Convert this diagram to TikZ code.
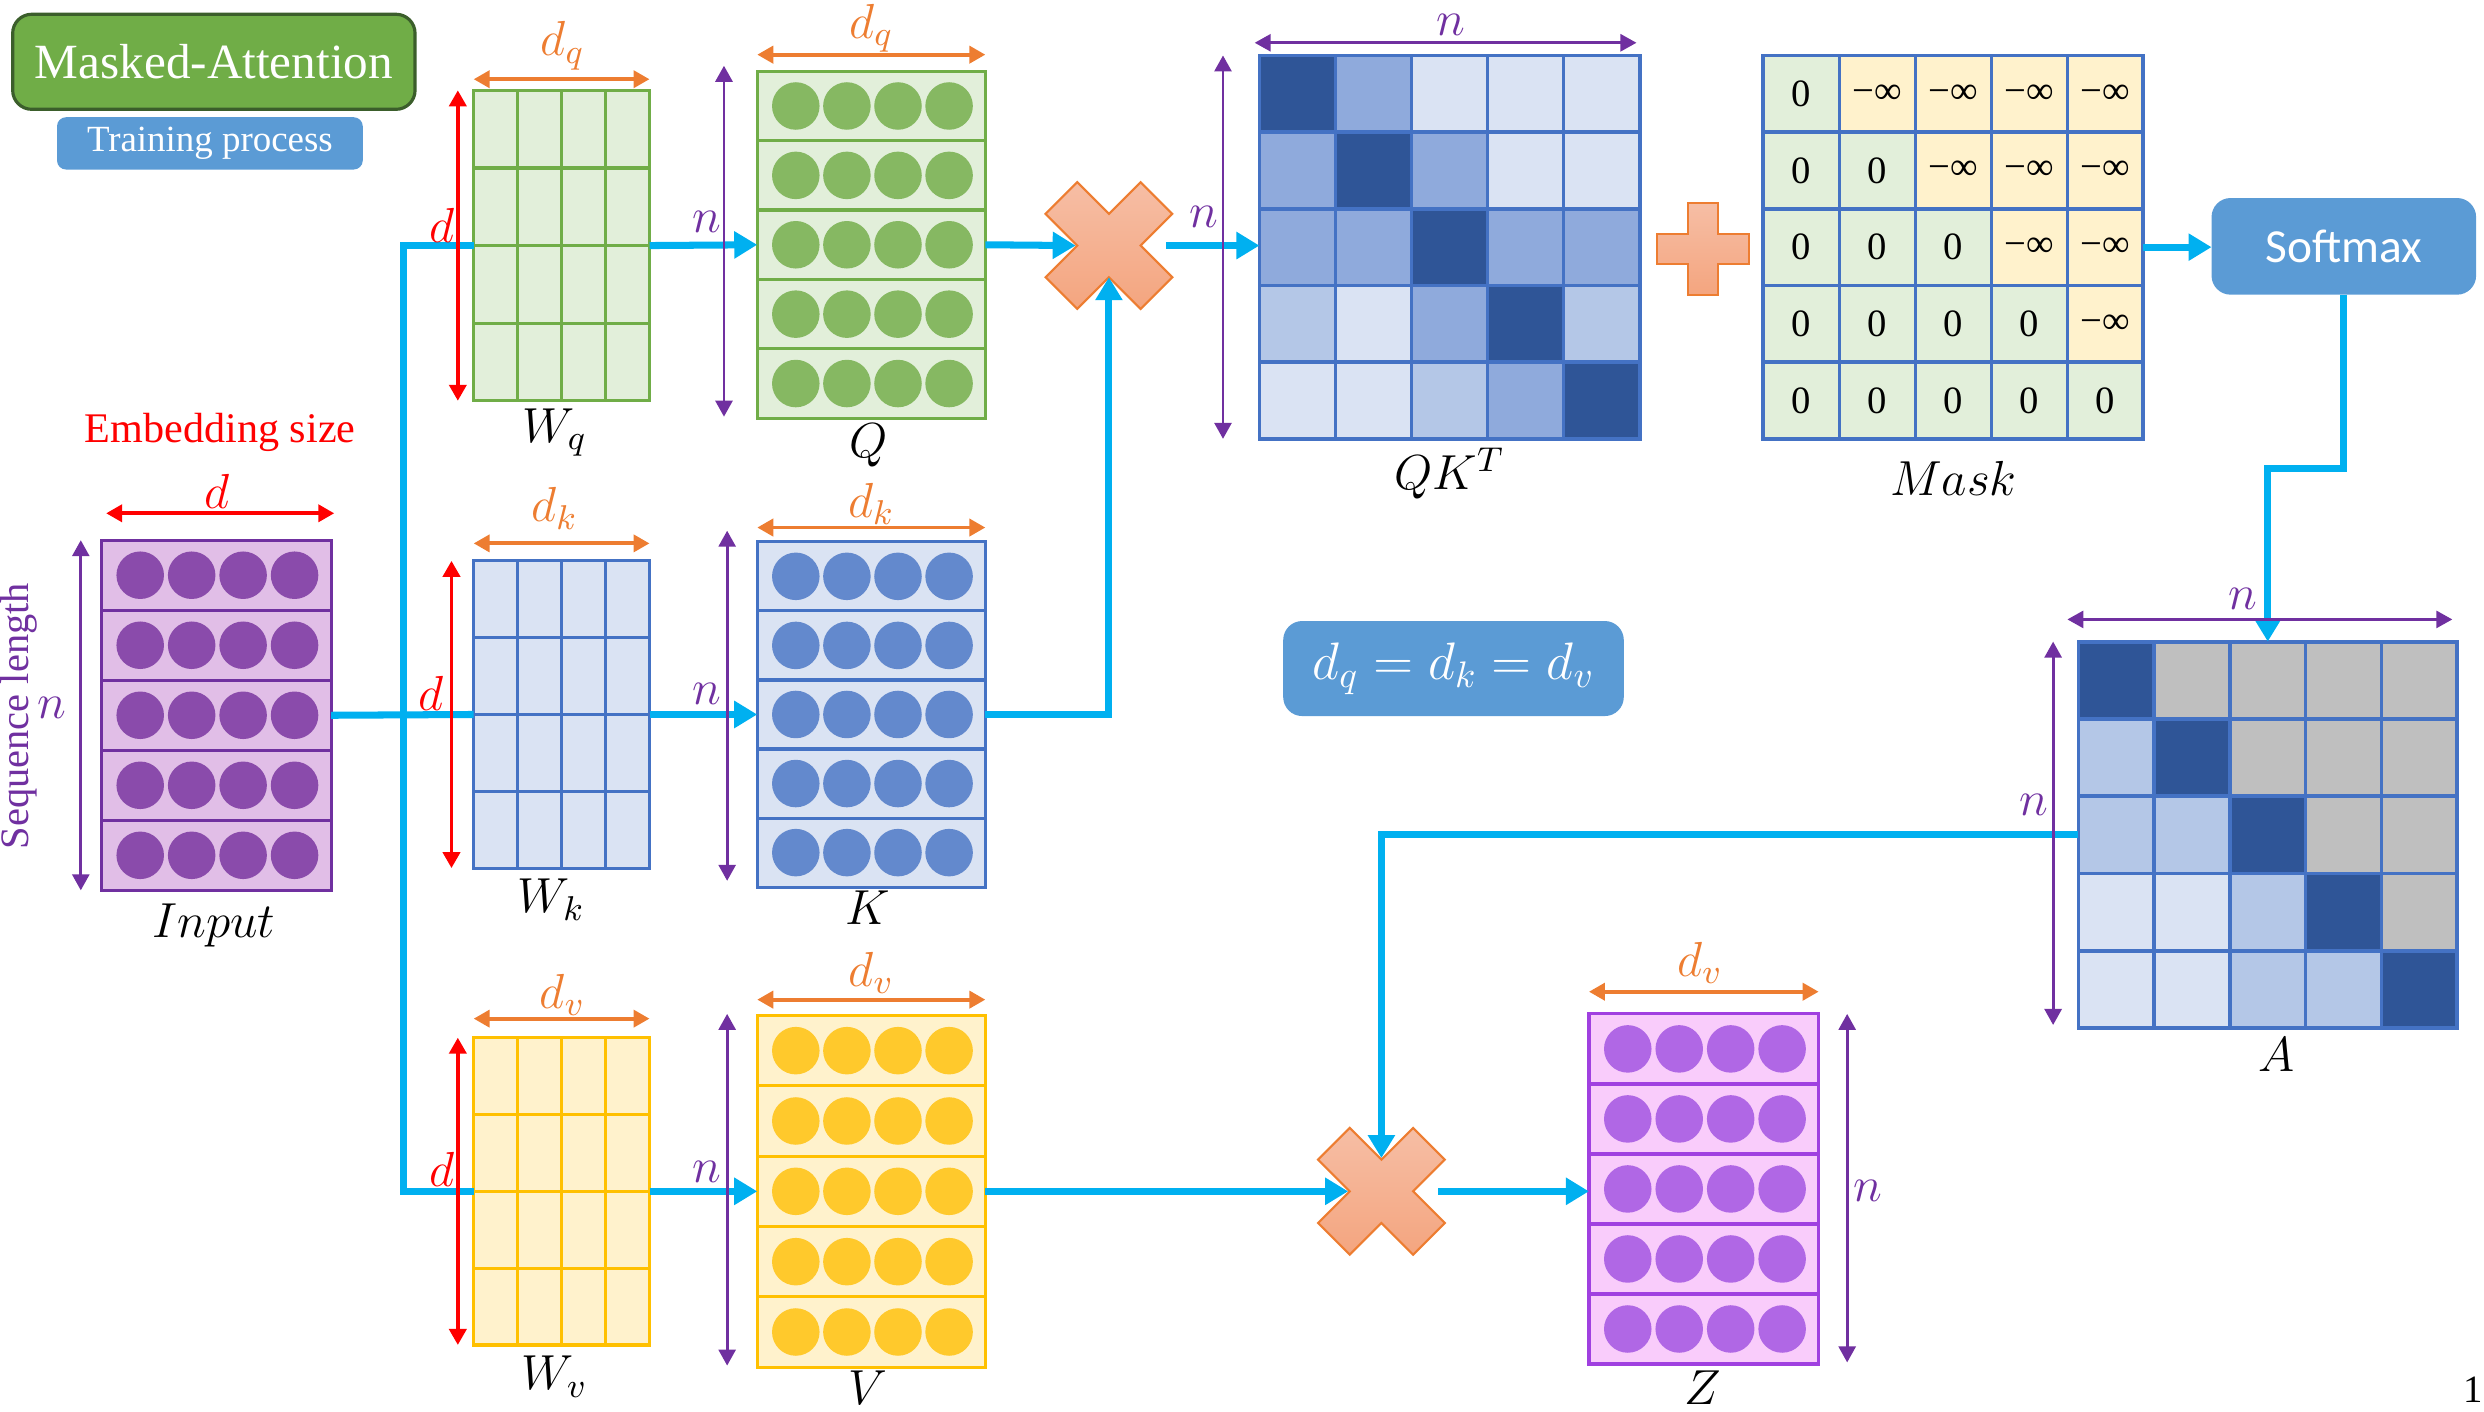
\RequirePackage{fix-cm}
\documentclass[tikz,border=0pt]{standalone}
\usepackage{fontspec}
\setmainfont{Liberation Serif}
\newfontfamily\uisans{Carlito}
\usetikzlibrary{arrows.meta,fit,calc}

\definecolor{flowblue}{HTML}{00B0F0}
\definecolor{dimpurple}{HTML}{7030A0}
\definecolor{dimorange}{HTML}{ED7D31}
\definecolor{dimred}{HTML}{FF0000}
\definecolor{panelblue}{HTML}{5B9BD5}
\definecolor{titlegreen}{HTML}{70AD47}
\definecolor{titleedge}{HTML}{3B5E2B}
% weight / vector colours
\definecolor{gfill}{HTML}{E2EFDA}\definecolor{gline}{HTML}{70AD47}\definecolor{gdot}{HTML}{86B862}
\definecolor{bfill}{HTML}{DAE3F3}\definecolor{bline}{HTML}{4472C4}\definecolor{bdot}{HTML}{6389CD}
\definecolor{yfill}{HTML}{FFF2CC}\definecolor{yline}{HTML}{FFC000}\definecolor{ydot}{HTML}{FFC92C}
\definecolor{pfill}{HTML}{E1BEE7}\definecolor{pline}{HTML}{7030A0}\definecolor{pdot}{HTML}{8A4BAB}
\definecolor{zfill}{HTML}{F9CCFB}\definecolor{zline}{HTML}{A040E0}\definecolor{zdot}{HTML}{B067E5}
% heat map shades
\definecolor{hdk}{HTML}{2F5597}
\definecolor{hmd}{HTML}{8FAADC}
\definecolor{hlm}{HTML}{B4C7E7}
\definecolor{hlt}{HTML}{DAE3F3}
\definecolor{hgr}{HTML}{BFBFBF}
\definecolor{mg}{HTML}{E2EFDA}
\definecolor{my}{HTML}{FFF2CC}
% product / sum signs
\definecolor{signtop}{HTML}{F6BEA5}
\definecolor{signbot}{HTML}{F4A57F}
\definecolor{signedge}{HTML}{ED7D31}

\newcommand\ninf{−∞}

\tikzset{
  flowline/.style={draw=flowblue, line width=2pt, line join=miter},
  flowarrow/.style={flowline, -{Triangle[length=0.23cm,width=0.26cm]}},
  dimtips/.style={{Triangle[length=0.16cm,width=0.17cm]}-{Triangle[length=0.16cm,width=0.17cm]}},
  purpdim/.style={draw=dimpurple, line width=0.8pt, dimtips},
  orgdim/.style={draw=dimorange, line width=1.1pt, dimtips},
  reddim/.style={draw=dimred, line width=1.1pt, dimtips},
  mlab/.style={inner sep=0pt, font=\fontsize{14}{16}\selectfont},
  frame/.style={inner sep=0pt, outer sep=0pt},
}

% weight matrix: 4x4 grid
\newcommand\weightgrid[7]{%
  \fill[#6] (#2,#3) rectangle (#4,#5);
  \foreach \i in {1,2,3} {
    \draw[#7, line width=0.9pt] ({#2+\i*(#4-#2)/4},#3) -- ({#2+\i*(#4-#2)/4},#5);
    \draw[#7, line width=0.9pt] (#2,{#3+\i*(#5-#3)/4}) -- (#4,{#3+\i*(#5-#3)/4});
  }
  \draw[#7, line width=0.9pt] (#2,#3) rectangle (#4,#5);
  \node[frame, fit={(#2,#3) (#4,#5)}] (#1) {};
}

% vector matrix: 5 rows of 4 dots
\newcommand\vecmat[8]{%
  \foreach \r in {0,...,4} {
    \pgfmathsetmacro\ya{#3+\r*(#5-#3)/5}
    \pgfmathsetmacro\yb{#3+(\r+1)*(#5-#3)/5}
    \draw[fill=#6, draw=#7, line width=0.9pt] (#2,\ya) rectangle (#4,\yb);
    \foreach \i in {0,...,3}
      \fill[#8] ({#2+(0.169+\i*0.224)*(#4-#2)},{(\ya+\yb)/2}) circle[radius=0.2376cm];
  }
  \node[frame, fit={(#2,#3) (#4,#5)}] (#1) {};
}

% 5x5 shaded matrix
\newcommand\heatmat[6]{%
  \foreach \c [count=\k from 0] in {#6} {
    \pgfmathtruncatemacro\cc{mod(\k,5)}
    \pgfmathtruncatemacro\rr{floor(\k/5)}
    \fill[fill=\c] ({#2+\cc*(#4-#2)/5},{#3+\rr*(#5-#3)/5}) rectangle ({#2+(\cc+1)*(#4-#2)/5},{#3+(\rr+1)*(#5-#3)/5});
  }
  \foreach \i in {1,...,4} {
    \draw[bline, line width=1pt] ({#2+\i*(#4-#2)/5},#3) -- ({#2+\i*(#4-#2)/5},#5);
    \draw[bline, line width=1pt] (#2,{#3+\i*(#5-#3)/5}) -- (#4,{#3+\i*(#5-#3)/5});
  }
  \draw[bline, line width=1.1pt] (#2,#3) rectangle (#4,#5);
  \node[frame, fit={(#2,#3) (#4,#5)}] (#1) {};
}

% multiplication sign with named notches
\newcommand\timessign[3]{%
  \shadedraw[top color=signtop, bottom color=signbot, draw=signedge, line width=0.6pt]
    (#2-40,#3-20) -- (#2-20,#3-40) -- (#2,#3-20) -- (#2+20,#3-40) -- (#2+40,#3-20) -- (#2+20,#3)
    -- (#2+40,#3+20) -- (#2+20,#3+40) -- (#2,#3+20) -- (#2-20,#3+40) -- (#2-40,#3+20) -- (#2-20,#3) -- cycle;
  \coordinate (#1) at (#2,#3);
  \coordinate (#1-l) at (#2-21,#3);
  \coordinate (#1-r) at (#2+36,#3);
  \coordinate (#1-t) at (#2,#3-21);
  \coordinate (#1-b) at (#2,#3+20);
}

\begin{document}
\begin{tikzpicture}[x=0.015842cm, y=-0.015842cm]
\useasboundingbox (0,0) rectangle (1568,891);

% ---- title panels ----
\node[frame, fit={(8,9) (262,69)}, rounded corners=0.19cm, fill=titlegreen, draw=titleedge, line width=0.9pt] (titlebox) {};
\node[inner sep=0pt, text=white, font=\fontsize{14}{16}\selectfont] (titletext) at (titlebox) {Masked-Attention};
\node[frame, fit={(36,74) (229,107)}, rounded corners=0.09cm, fill=panelblue] (trainbox) {};
\node[inner sep=0pt, text=white, font=\fontsize{10.5}{12}\selectfont] (traintext) at (trainbox) {Training process};

% ---- input ----
\vecmat{In}{64}{341}{209}{562}{pfill}{pline}{pdot}
\node[inner sep=0pt, text=dimred, font=\fontsize{12}{14}\selectfont] (embsize) at (139,273) {Embedding size};
\node[inner sep=0pt, rotate=90, text=dimpurple, font=\fontsize{11.5}{13}\selectfont] (seqlen) at (12,452) {Sequence length};

% ---- weights ----
\weightgrid{Wq}{299}{57}{410}{253}{gfill}{gline}
\weightgrid{Wk}{299}{354}{410}{548}{bfill}{bline}
\weightgrid{Wv}{299}{655}{410}{849}{yfill}{yline}

% ---- Q, K, V, Z ----
\vecmat{Q}{478}{45}{622}{264}{gfill}{gline}{gdot}
\vecmat{K}{478}{342}{622}{560}{bfill}{bline}{bdot}
\vecmat{V}{478}{641}{622}{863}{yfill}{yline}{ydot}
\vecmat{Z}{1003}{640}{1148}{861}{zfill}{zline}{zdot}

% ---- score, mask and attention matrices ----
\heatmat{QK}{795}{35}{1035}{277}{hdk,hmd,hlt,hlt,hlt, hmd,hdk,hmd,hlt,hlt, hmd,hmd,hdk,hmd,hmd, hlm,hlt,hmd,hdk,hlm, hlt,hlt,hlm,hmd,hdk}
\heatmat{Mask}{1113}{35}{1353}{277}{mg,my,my,my,my, mg,mg,my,my,my, mg,mg,mg,my,my, mg,mg,mg,mg,my, mg,mg,mg,mg,mg}
\foreach \t [count=\k from 0] in {0,\ninf,\ninf,\ninf,\ninf, 0,0,\ninf,\ninf,\ninf, 0,0,0,\ninf,\ninf, 0,0,0,0,\ninf, 0,0,0,0,0} {
  \pgfmathtruncatemacro\cc{mod(\k,5)}
  \pgfmathtruncatemacro\rr{floor(\k/5)}
  \node[inner sep=0pt, font=\fontsize{11}{13}\selectfont] (mv\k) at ({1113+(\cc+0.5)*48},{35+(\rr+0.5)*48.4}) {\t};
}
\heatmat{A}{1312}{405}{1551}{649}{hdk,hgr,hgr,hgr,hgr, hlm,hdk,hgr,hgr,hgr, hlm,hlm,hdk,hgr,hgr, hlt,hlt,hlm,hdk,hgr, hlt,hlt,hlm,hlm,hdk}

% ---- operators ----
\timessign{m1}{700}{155}
\timessign{m2}{872}{752}
\shadedraw[top color=signtop, bottom color=signbot, draw=signedge, line width=0.6pt]
  (1065.5,128) -- (1084.5,128) -- (1084.5,147.5) -- (1104,147.5) -- (1104,166.5) -- (1084.5,166.5)
  -- (1084.5,186) -- (1065.5,186) -- (1065.5,166.5) -- (1046,166.5) -- (1046,147.5) -- (1065.5,147.5) -- cycle;

% ---- softmax and equality panel ----
\node[frame, fit={(1396,125) (1563,186)}, rounded corners=0.19cm, fill=panelblue] (Sm) {};
\node[inner sep=0pt, text=white, font=\uisans\fontsize{13.5}{15}\selectfont] (smtext) at (Sm) {Softmax};
\node[frame, fit={(810,392) (1025,452)}, rounded corners=0.19cm, fill=panelblue] (eqbox) {};
\node[inner sep=0pt, text=white, font=\fontsize{15}{17}\selectfont] (eqtext) at (eqbox) {$d_q = d_k = d_v$};

% ---- data flow ----
\coordinate (tq) at (255,155);
\coordinate (tv) at (255,752);
\coordinate (bend) at (1455,296);
\draw[flowline] (Wq.west) -- (tq) -- (tv) -- (Wv.west);
\draw[flowline] (In.east) -- (Wk.west);
\draw[flowarrow] (Wq.east) -- (Q.west);
\draw[flowarrow] (Wk.east) -- (K.west);
\draw[flowarrow] (Wv.east) -- (V.west);
\draw[flowarrow] (Q.east) -- (m1-l);
\draw[flowarrow] (K.east) -| (m1-b);
\draw[flowarrow] (m1-r) -- (m1-r -| QK.west);
\draw[flowarrow] (Mask.east) -- (Mask.east -| Sm.west);
\draw[flowarrow] (Sm.south) |- (bend) -| (A.north);
\draw[flowarrow] (A.west) -| (m2-t);
\draw[flowarrow] (V.east) -- (m2-l);
\draw[flowarrow] (m2-r) -- (m2-r -| Z.west);

% ---- dimension markers ----
\draw[reddim] (67,324) -- (211,324);
\draw[purpdim] (51,341) -- (51,562);
\draw[orgdim] (299,50) -- (410,50);
\draw[reddim] (289,57) -- (289,253);
\draw[orgdim] (299,343) -- (410,343);
\draw[reddim] (285,354) -- (285,548);
\draw[orgdim] (299,643) -- (410,643);
\draw[reddim] (289,655) -- (289,849);
\draw[orgdim] (478,34.5) -- (622,34.5);
\draw[purpdim] (457,41.5) -- (457,263);
\draw[orgdim] (478,333) -- (622,333);
\draw[purpdim] (459,335) -- (459,556);
\draw[orgdim] (478,631) -- (622,631);
\draw[purpdim] (459,640) -- (459,862);
\draw[purpdim] (792,27) -- (1033,27);
\draw[purpdim] (772,35) -- (772,277);
\draw[purpdim] (1305,391) -- (1548,391);
\draw[purpdim] (1296,405) -- (1296,647);
\draw[orgdim] (1003,626) -- (1148,626);
\draw[purpdim] (1166,640) -- (1166,860);

% ---- labels ----
\node[mlab, text=dimred] (dIn) at (137,310) {$d$};
\node[mlab, text=dimpurple] (nIn) at (33,447) {$n$};
\node[mlab] (inlab) at (135,584) {$Input$};

\node[mlab, text=dimorange] (dWq) at (355,29) {$d_q$};
\node[mlab, text=dimorange] (dWk) at (350,321) {$d_k$};
\node[mlab, text=dimorange] (dWv) at (355,628) {$d_v$};
\node[mlab, text=dimred] (rWq) at (279,142) {$d$};
\node[mlab, text=dimred] (rWk) at (272,438) {$d$};
\node[mlab, text=dimred] (rWv) at (279,738) {$d$};
\node[mlab] (Wqlab) at (350,273) {$W_q$};
\node[mlab] (Wklab) at (348,568) {$W_k$};
\node[mlab] (Wvlab) at (350,869) {$W_v$};

\node[mlab, text=dimorange] (dQ) at (550,18) {$d_q$};
\node[mlab, text=dimorange] (dK) at (550,318) {$d_k$};
\node[mlab, text=dimorange] (dV) at (550,614) {$d_v$};
\node[mlab, text=dimpurple] (nQ) at (446,140) {$n$};
\node[mlab, text=dimpurple] (nK) at (446,438) {$n$};
\node[mlab, text=dimpurple] (nV) at (446,740) {$n$};
\node[mlab] (Qlab) at (548,281) {$Q$};
\node[mlab] (Klab) at (548,573) {$K$};
\node[mlab] (Vlab) at (548,876) {$V$};

\node[mlab, text=dimpurple] (nQKt) at (916,16) {$n$};
\node[mlab, text=dimpurple] (nQKl) at (760,137) {$n$};
\node[mlab] (QKlab) at (915,299) {$QK^T$};
\node[mlab] (Masklab) at (1233,302) {$Mask$};

\node[mlab, text=dimpurple] (nAt) at (1416,378) {$n$};
\node[mlab, text=dimpurple] (nAl) at (1284,508) {$n$};
\node[mlab] (Alab) at (1437,666) {$A$};

\node[mlab, text=dimorange] (dZ) at (1073,608) {$d_v$};
\node[mlab, text=dimpurple] (nZ) at (1179,752) {$n$};
\node[mlab] (Zlab) at (1075,876) {$Z$};

\node[inner sep=0pt, font=\fontsize{11}{13}\selectfont] (pagenum) at (1561,877) {1};
\end{tikzpicture}
\end{document}
